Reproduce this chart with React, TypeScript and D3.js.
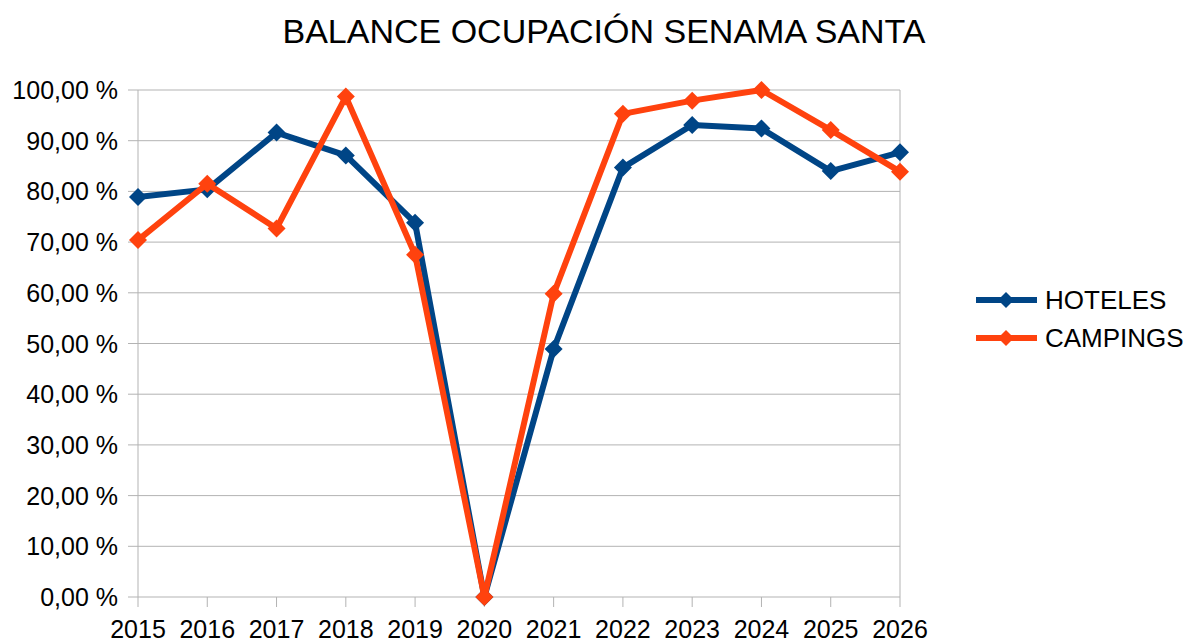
import React from "react";
import * as d3 from "d3";

const years = ["2015", "2016", "2017", "2018", "2019", "2020", "2021", "2022", "2023", "2024", "2025", "2026"];
const hoteles = [78.9, 80.4, 91.6, 87.1, 73.8, 0, 48.9, 84.7, 93.1, 92.4, 84.0, 87.7];
const campings = [70.4, 81.5, 72.7, 98.7, 67.5, 0, 59.8, 95.3, 97.9, 100, 92.1, 83.9];
const yTicks = [0, 10, 20, 30, 40, 50, 60, 70, 80, 90, 100];

const series = [
  { name: "HOTELES", values: hoteles, color: "#004586" },
  { name: "CAMPINGS", values: campings, color: "#ff420e" },
];

const W = 1186;
const H = 642;
const left = 138;
const right = 900;
const top = 90;
const bottom = 597;

const fmt = (v: number) => v.toFixed(2).replace(".", ",") + " %";

const diamond = (x: number, y: number, r: number) =>
  `M${x},${y - r}L${x + r},${y}L${x},${y + r}L${x - r},${y}Z`;

export default function App() {
  const x = d3.scalePoint<string>().domain(years).range([left, right]);
  const y = d3.scaleLinear().domain([0, 100]).range([bottom, top]);
  const line = d3
    .line<number>()
    .x((_, i) => x(years[i])!)
    .y((d) => y(d));

  return (
    <svg
      width={W}
      height={H}
      style={{ position: "absolute", left: 0, top: 0, fontFamily: "'Liberation Sans', Arial, sans-serif" }}
    >
      <rect width={W} height={H} fill="#fff" />
      <text x={604} y={43} textAnchor="middle" fontSize={34} fill="#000">
        BALANCE OCUPACIÓN SENAMA SANTA
      </text>

      {yTicks.map((t) => (
        <g key={t}>
          <line x1={left - 10} x2={right} y1={y(t)} y2={y(t)} stroke="#b3b3b3" strokeWidth={1} />
          <text x={118} y={y(t) + 9} textAnchor="end" fontSize={25} fill="#000">
            {fmt(t)}
          </text>
        </g>
      ))}
      <line x1={left} x2={left} y1={top} y2={bottom} stroke="#b3b3b3" />
      <line x1={right} x2={right} y1={top} y2={bottom} stroke="#b3b3b3" />

      {years.map((yr) => (
        <g key={yr}>
          <line x1={x(yr)} x2={x(yr)} y1={bottom} y2={bottom + 10} stroke="#b3b3b3" />
          <text x={x(yr)} y={638} textAnchor="middle" fontSize={25} fill="#000">
            {yr}
          </text>
        </g>
      ))}

      {series.map((s) => (
        <g key={s.name}>
          <path d={line(s.values)!} fill="none" stroke={s.color} strokeWidth={6} strokeLinejoin="round" />
          {s.values.map((v, i) => (
            <path key={i} d={diamond(x(years[i])!, y(v), 9)} fill={s.color} />
          ))}
        </g>
      ))}

      {series.map((s, i) => {
        const ly = 300 + i * 38;
        return (
          <g key={s.name}>
            <line x1={976} x2={1037} y1={ly} y2={ly} stroke={s.color} strokeWidth={6} />
            <path d={diamond(1006, ly, 8)} fill={s.color} />
            <text x={1045} y={ly + 9} fontSize={26} fill="#000">
              {s.name}
            </text>
          </g>
        );
      })}
    </svg>
  );
}
